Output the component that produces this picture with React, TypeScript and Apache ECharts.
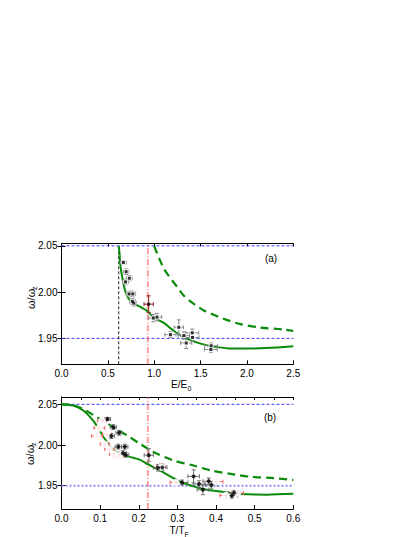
import React, { useEffect, useRef } from 'react';
import * as echarts from 'echarts';

const FONT = 'Liberation Sans, Arial, sans-serif';

// Panel (a): x = E/E0
const aXTicks = [0, 0.5, 1.0, 1.5, 2.0, 2.5];
const yTicks = [1.95, 2.0, 2.05];
// [E, omega, dE, domega]
const aPoints = [
  [0.667, 2.032, 0.03, 0.002],
  [0.697, 2.022, 0.03, 0.003],
  [0.732, 2.015, 0.03, 0.003],
  [0.690, 2.011, 0.03, 0.003],
  [0.729, 1.998, 0.03, 0.003],
  [0.769, 1.998, 0.03, 0.003],
  [0.765, 1.990, 0.03, 0.003],
  [0.780, 1.988, 0.03, 0.003],
  [0.990, 1.972, 0.05, 0.004],
  [1.030, 1.973, 0.05, 0.004],
  [1.175, 1.954, 0.06, 0.003],
  [1.265, 1.962, 0.05, 0.008],
  [1.320, 1.953, 0.06, 0.004],
  [1.345, 1.945, 0.06, 0.006],
  [1.410, 1.956, 0.07, 0.004],
  [1.413, 1.951, 0.07, 0.004],
  [1.614, 1.942, 0.07, 0.003],
  [1.611, 1.938, 0.07, 0.003],
];
const aSpecialPoint = [[0.94, 1.987, 0.05, 0.009]];
const aSolid = [
  [0.617, 2.050], [0.625, 2.043], [0.632, 2.032], [0.645, 2.022], [0.667, 2.010],
  [0.685, 2.002], [0.704, 1.997], [0.73, 1.992], [0.775, 1.988], [0.85, 1.984],
  [0.92, 1.980], [0.98, 1.974], [1.03, 1.9705], [1.1, 1.967], [1.2, 1.959],
  [1.32, 1.951], [1.45, 1.946], [1.55, 1.943], [1.65, 1.941], [1.8, 1.9392],
  [2.0, 1.939], [2.2, 1.9395], [2.5, 1.9415],
];
const aDashed = [
  [1.0, 2.050], [1.03, 2.042], [1.064, 2.034], [1.10, 2.026], [1.153, 2.018],
  [1.244, 2.006], [1.32, 1.996], [1.39, 1.990], [1.46, 1.985], [1.53, 1.9805],
  [1.66, 1.9747], [1.78, 1.970], [1.93, 1.9654], [2.14, 1.9618], [2.4, 1.9595], [2.5, 1.958],
];
const aVerticalBlack = 0.617;
const aVerticalRed = 0.931;

// Panel (b): x = T/TF
const bXTicks = [0, 0.1, 0.2, 0.3, 0.4, 0.5, 0.6];
const bBlackPoints = [
  [0.119, 2.032, 0.008, 0.002],
  [0.134, 2.022, 0.008, 0.003],
  [0.149, 2.015, 0.008, 0.003],
  [0.129, 2.011, 0.008, 0.003],
  [0.147, 1.998, 0.008, 0.003],
  [0.164, 1.998, 0.008, 0.003],
  [0.159, 1.990, 0.008, 0.003],
  [0.166, 1.988, 0.008, 0.003],
  [0.226, 1.9875, 0.012, 0.008],
  [0.250, 1.972, 0.012, 0.004],
  [0.261, 1.9725, 0.012, 0.004],
  [0.312, 1.954, 0.015, 0.003],
  [0.342, 1.9615, 0.015, 0.008],
  [0.356, 1.952, 0.015, 0.004],
  [0.366, 1.945, 0.015, 0.006],
  [0.381, 1.9555, 0.015, 0.004],
  [0.388, 1.951, 0.015, 0.004],
  [0.441, 1.9378, 0.015, 0.003],
  [0.447, 1.9413, 0.015, 0.003],
];
const bRedPoints = [
  [0.105, 2.030, 0.012, 0.002],
  [0.098, 2.021, 0.014, 0.003],
  [0.118, 2.013, 0.012, 0.003],
  [0.092, 2.011, 0.014, 0.003],
  [0.112, 2.001, 0.012, 0.003],
  [0.124, 1.995, 0.012, 0.003],
  [0.136, 1.989, 0.012, 0.003],
  [0.150, 1.987, 0.012, 0.003],
  [0.258, 1.973, 0.012, 0.004],
  [0.296, 1.954, 0.015, 0.003],
  [0.400, 1.955, 0.018, 0.003],
  [0.425, 1.938, 0.015, 0.003],
  [0.456, 1.941, 0.015, 0.003],
];
const bSolid = [
  [0, 2.0498], [0.03, 2.0485], [0.0565, 2.0424], [0.082, 2.030], [0.1, 2.017],
  [0.117, 2.004], [0.134, 1.994], [0.152, 1.989], [0.186, 1.9843], [0.2035, 1.9818],
  [0.221, 1.977], [0.255, 1.9687], [0.307, 1.955], [0.359, 1.947], [0.411, 1.9428],
  [0.463, 1.9398], [0.532, 1.939], [0.6, 1.940],
];
const bDashed = [
  [0, 2.050], [0.03, 2.049], [0.061, 2.043], [0.082, 2.037], [0.117, 2.027],
  [0.139, 2.020], [0.169, 2.012], [0.203, 2.0015], [0.238, 1.9915], [0.29, 1.981],
  [0.342, 1.9748], [0.385, 1.969], [0.445, 1.964], [0.49, 1.961], [0.55, 1.9593], [0.6, 1.957],
];
const bVerticalRed = 0.2234;
const refLevels = [1.95, 2.05];

const GREEN = '#0a8a0a';

function errorBarSeries(data: number[][], xi: number, yi: number, color: string, width = 1) {
  return {
    type: 'custom',
    xAxisIndex: xi,
    yAxisIndex: yi,
    data,
    encode: { x: 0, y: 1 },
    z: 3,
    renderItem: (params: any, api: any) => {
      const x = api.value(0), y = api.value(1), dx = api.value(2), dy = api.value(3);
      const l = api.coord([x - dx, y]);
      const r = api.coord([x + dx, y]);
      const b = api.coord([x, y - dy]);
      const t = api.coord([x, y + dy]);
      const c = 2;
      const st = { stroke: color, lineWidth: width };
      return {
        type: 'group',
        children: [
          { type: 'line', shape: { x1: l[0], y1: l[1], x2: r[0], y2: r[1] }, style: st },
          { type: 'line', shape: { x1: l[0], y1: l[1] - c, x2: l[0], y2: l[1] + c }, style: st },
          { type: 'line', shape: { x1: r[0], y1: r[1] - c, x2: r[0], y2: r[1] + c }, style: st },
          { type: 'line', shape: { x1: b[0], y1: b[1], x2: t[0], y2: t[1] }, style: st },
          { type: 'line', shape: { x1: b[0] - c, y1: b[1], x2: b[0] + c, y2: b[1] }, style: st },
          { type: 'line', shape: { x1: t[0] - c, y1: t[1], x2: t[0] + c, y2: t[1] }, style: st },
        ],
      };
    },
  };
}

function lineSeries(data: number[][], xi: number, yi: number, lineStyle: any, smooth: any = false, z = 2) {
  return {
    type: 'line', xAxisIndex: xi, yAxisIndex: yi, data, showSymbol: false, symbol: 'none',
    smooth, lineStyle, z, silent: true,
  };
}

function scatter(data: number[][], xi: number, yi: number, symbol: string, size: number, itemStyle: any, z = 4) {
  return {
    type: 'scatter', xAxisIndex: xi, yAxisIndex: yi, data: data.map((d) => [d[0], d[1]]),
    symbol, symbolSize: size, itemStyle, z, silent: true,
  };
}

const axisLine = { show: true, lineStyle: { color: '#000', width: 1 } };

function xAxes(gridIndex: number, max: number, interval: number, topInterval: number, labelMargin: number) {
  return [
    {
      type: 'value', gridIndex, position: 'bottom', min: 0, max, interval,
      axisLine, axisTick: { inside: true, length: 4, lineStyle: { color: '#000' } },
      axisLabel: { fontSize: 10, color: '#000', fontFamily: FONT, margin: labelMargin, formatter: (v: number) => v.toFixed(1) },
      splitLine: { show: false },
    },
    {
      type: 'value', gridIndex, position: 'top', min: 0, max, interval: topInterval,
      axisLine, axisTick: { inside: true, length: 3, lineStyle: { color: '#000' } },
      axisLabel: { show: false }, splitLine: { show: false },
    },
  ];
}

function yAxes(gridIndex: number, min: number, max: number) {
  return [
    {
      type: 'value', gridIndex, position: 'left', min, max,
      axisLine, axisTick: { inside: true, length: 4, customValues: yTicks, lineStyle: { color: '#000' } },
      axisLabel: { fontSize: 10, color: '#000', fontFamily: FONT, margin: 4, customValues: yTicks, formatter: (v: number) => v.toFixed(2) },
      splitLine: { show: false },
    },
    {
      type: 'value', gridIndex, position: 'right', min, max,
      axisLine, axisTick: { inside: true, length: 4, customValues: yTicks, lineStyle: { color: '#000' } },
      axisLabel: { show: false }, splitLine: { show: false },
    },
  ];
}

export default function App() {
  const ref = useRef<HTMLDivElement>(null);
  useEffect(() => {
    if (!ref.current) return;
    const chart = echarts.init(ref.current, undefined, { renderer: 'svg' });
    const aYMin = 1.922, aYMax = 2.0525, bYMin = 1.9214, bYMax = 2.059;
    const redLine = { color: 'rgba(255,90,90,0.6)', width: 2, type: [6, 2, 1, 2] };
    const option: any = {
      animation: false,
      backgroundColor: '#fff',
      grid: [
        { left: 61.5, top: 243.5, width: 231.8, height: 120.8 },
        { left: 61.5, top: 397, width: 231.8, height: 112 },
      ],
      xAxis: [...xAxes(0, 2.5, 0.5, 0.5, 4), ...xAxes(1, 0.6, 0.1, 0.05, 4)],
      yAxis: [...yAxes(0, aYMin, aYMax), ...yAxes(1, bYMin, bYMax)],
      series: [
        // panel a reference lines
        ...refLevels.map((v) => lineSeries([[0, v], [2.5, v]], 0, 0, { color: '#3a3aff', width: 1, type: [3, 2] }, false, 1)),
        lineSeries([[aVerticalBlack, aYMin], [aVerticalBlack, 2.05]], 0, 0, { color: '#222', width: 1, type: [3, 2] }, false, 1),
        lineSeries([[aVerticalRed, aYMin], [aVerticalRed, aYMax]], 0, 0, redLine, false, 1),
        lineSeries(aSolid, 0, 0, { color: GREEN, width: 2 }, 0.3),
        lineSeries(aDashed, 0, 0, { color: GREEN, width: 2.2, type: [8, 5] }, 0.3),
        errorBarSeries(aPoints, 0, 0, '#8a8a8a'),
        errorBarSeries(aSpecialPoint, 0, 0, '#8b2020'),
        scatter(aPoints, 0, 0, 'emptyCircle', 5.5, { color: 'rgba(255,255,255,0)', borderColor: '#b5b5b5', borderWidth: 1 }, 3),
        scatter([...aPoints, ...aSpecialPoint], 0, 0, 'rect', 3, { color: '#000' }),
        // panel b
        lineSeries([[0, 2.05], [0.6, 2.05]], 2, 2, { color: '#3a3aff', width: 1, type: [3, 2] }, false, 1),
        lineSeries([[0, 1.95], [0.6, 1.95]], 2, 2, { color: '#8c8cff', width: 2, type: [2, 2] }, false, 1),
        lineSeries([[bVerticalRed, bYMin], [bVerticalRed, bYMax]], 2, 2, redLine, false, 1),
        lineSeries(bSolid, 2, 2, { color: GREEN, width: 2 }, 0.3),
        lineSeries(bDashed, 2, 2, { color: GREEN, width: 2.2, type: [8, 5] }, 0.3),
        errorBarSeries(bRedPoints, 2, 2, '#f06a6a'),
        scatter(bRedPoints, 2, 2, 'emptyCircle', 5.5, { color: '#fff', borderColor: '#f07878', borderWidth: 1 }, 3),
        errorBarSeries(bBlackPoints, 2, 2, '#707070'),
        scatter(bBlackPoints, 2, 2, 'circle', 4, { color: '#000' }),
      ],
      graphic: [
        { type: 'text', x: 271, y: 258, style: { text: '(a)', font: `10px ${FONT}`, fill: '#000', align: 'center', verticalAlign: 'middle' } },
        { type: 'text', x: 270, y: 417, style: { text: '(b)', font: `10px ${FONT}`, fill: '#000', align: 'center', verticalAlign: 'middle' } },
        { type: 'text', x: 171, y: 384, style: { text: 'E/E', font: `10px ${FONT}`, fill: '#000', verticalAlign: 'middle' } },
        { type: 'text', x: 187.5, y: 388, style: { text: '0', font: `7px ${FONT}`, fill: '#000', verticalAlign: 'middle' } },
        { type: 'text', x: 169.5, y: 530.5, style: { text: 'T/T', font: `10px ${FONT}`, fill: '#000', verticalAlign: 'middle' } },
        { type: 'text', x: 184.5, y: 534, style: { text: 'F', font: `7px ${FONT}`, fill: '#000', verticalAlign: 'middle' } },
        {
          type: 'group', x: 31, y: 297, rotation: Math.PI / 2,
          children: [
            { type: 'text', x: -12, y: 0, style: { text: 'ω/ω', font: `11px ${FONT}`, fill: '#000', verticalAlign: 'middle' } },
            { type: 'text', x: 7, y: 3, style: { text: 'z', font: `7px ${FONT}`, fill: '#000', verticalAlign: 'middle' } },
          ],
        },
        {
          type: 'group', x: 30, y: 453, rotation: Math.PI / 2,
          children: [
            { type: 'text', x: -12, y: 0, style: { text: 'ω/ω', font: `11px ${FONT}`, fill: '#000', verticalAlign: 'middle' } },
            { type: 'text', x: 7, y: 3, style: { text: 'z', font: `7px ${FONT}`, fill: '#000', verticalAlign: 'middle' } },
          ],
        },
      ],
    };
    chart.setOption(option);
    return () => chart.dispose();
  }, []);
  return (
    <div
      ref={ref}
      style={{ position: 'absolute', left: 0, top: 0, width: 415, height: 537, background: '#fff' }}
    />
  );
}
